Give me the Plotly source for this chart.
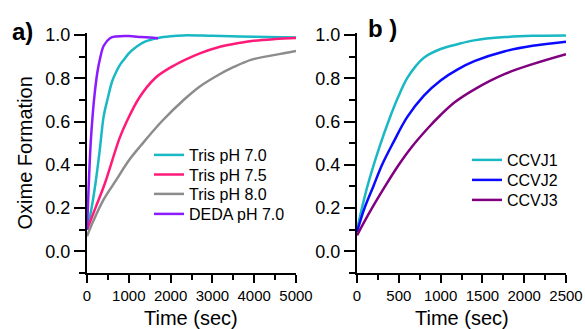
import plotly.graph_objects as go

# ---- Panel a) data (time in sec, oxime formation fraction) ----
a_names = ["Tris pH 7.0", "Tris pH 7.5", "Tris pH 8.0", "DEDA pH 7.0"]
a_colors = ["#19b8c4", "#ff1a7a", "#8c8c8c", "#8a1cff"]

t_tris70 = [0, 100, 200, 300, 400, 500, 600, 700, 800, 900, 1000, 1200, 1400, 1700, 2000, 2300, 3000, 4000, 5000]
y_tris70 = [0.10, 0.19, 0.31, 0.46, 0.625, 0.71, 0.785, 0.83, 0.865, 0.89, 0.915, 0.948, 0.97, 0.986, 0.994, 0.998, 0.996, 0.992, 0.988]

t_tris75 = [0, 200, 420, 773, 950, 1250, 1627, 2000, 2344, 2700, 3141, 3500, 3939, 4500, 5000]
y_tris75 = [0.10, 0.20, 0.31, 0.52, 0.60, 0.71, 0.80, 0.85, 0.885, 0.915, 0.943, 0.958, 0.972, 0.981, 0.986]

t_tris80 = [0, 150, 400, 700, 1000, 1292, 1786, 2344, 2700, 3141, 3500, 3939, 4500, 5000]
y_tris80 = [0.07, 0.14, 0.24, 0.33, 0.42, 0.49, 0.60, 0.705, 0.762, 0.815, 0.851, 0.886, 0.908, 0.926]

t_deda70 = [0, 40, 88, 140, 190, 250, 311, 400, 550, 700, 1000, 1300, 1500, 1700]
y_deda70 = [0.10, 0.30, 0.50, 0.64, 0.74, 0.83, 0.89, 0.95, 0.985, 0.993, 0.995, 0.99, 0.988, 0.985]

# ---- Panel b) data ----
b_names = ["CCVJ1", "CCVJ2", "CCVJ3"]
b_colors = ["#19b8c4", "#0a0aff", "#800080"]

t_ccvj1 = [0, 124, 275, 395, 500, 600, 700, 800, 1000, 1200, 1400, 1770, 2100, 2500]
y_ccvj1 = [0.10, 0.30, 0.49, 0.62, 0.72, 0.80, 0.855, 0.895, 0.935, 0.957, 0.975, 0.99, 0.996, 0.998]

t_ccvj2 = [0, 90, 195, 300, 430, 600, 800, 1000, 1200, 1411, 1770, 2100, 2500]
y_ccvj2 = [0.09, 0.20, 0.30, 0.40, 0.50, 0.62, 0.72, 0.79, 0.84, 0.88, 0.925, 0.95, 0.969]

t_ccvj3 = [0, 150, 335, 500, 650, 850, 1000, 1172, 1411, 1770, 2100, 2500]
y_ccvj3 = [0.074, 0.18, 0.30, 0.40, 0.48, 0.57, 0.63, 0.69, 0.75, 0.82, 0.865, 0.911]

y_ticks = [0.0, 0.2, 0.4, 0.6, 0.8, 1.0]
y_ticktext = ["0.0", "0.2", "0.4", "0.6", "0.8", "1.0"]
y_minor = [-0.1, 0.1, 0.3, 0.5, 0.7, 0.9]

FONT = "Liberation Sans, Arial, sans-serif"
W, H = 585, 329

fig = go.Figure()

# legend row tops (px from top) for each entry
a_leg_top = [138, 157.5, 177, 197]
b_leg_top = [143, 163, 183]

legends = {}
a_series = [(t_tris70, y_tris70), (t_tris75, y_tris75), (t_tris80, y_tris80), (t_deda70, y_deda70)]
idx = 1
for (tx, ty), name, col, top in zip(a_series, a_names, a_colors, a_leg_top):
    lname = "legend" if idx == 1 else f"legend{idx}"
    fig.add_trace(go.Scatter(x=tx, y=ty, mode="lines", name=name,
                             line=dict(color=col, width=2.5, shape="spline", smoothing=1.0),
                             xaxis="x", yaxis="y", legend=lname))
    legends[lname] = dict(x=149 / W, y=1 - top / H, xanchor="left", yanchor="top", bgcolor="rgba(0,0,0,0)",
                          font=dict(family=FONT, size=16, color="black"))
    idx += 1

b_series = [(t_ccvj1, y_ccvj1), (t_ccvj2, y_ccvj2), (t_ccvj3, y_ccvj3)]
for (tx, ty), name, col, top in zip(b_series, b_names, b_colors, b_leg_top):
    lname = f"legend{idx}"
    fig.add_trace(go.Scatter(x=tx, y=ty, mode="lines", name=name,
                             line=dict(color=col, width=2.5, shape="spline", smoothing=1.0),
                             xaxis="x2", yaxis="y2", legend=lname))
    legends[lname] = dict(x=467 / W, y=1 - top / H, xanchor="left", yanchor="top", bgcolor="rgba(0,0,0,0)",
                          font=dict(family=FONT, size=16, color="black"))
    idx += 1

ydom = [1 - 273 / H, 1 - 33 / H]

def xaxis(dom, rng, dtick, anchor):
    return dict(domain=dom, range=rng, anchor=anchor, automargin=False, showline=True, linecolor="black", linewidth=2,
                ticks="outside", ticklen=8, tickwidth=2, tickcolor="black", tick0=0, dtick=dtick,
                minor=dict(dtick=dtick / 2, ticks="outside", ticklen=5, tickwidth=2, tickcolor="black", showgrid=False),
                showgrid=False, zeroline=False,
                tickfont=dict(family=FONT, size=15, color="black"))

def yaxis(anchor):
    return dict(domain=ydom, range=[-0.1, 1.009], anchor=anchor, automargin=False, showline=True, linecolor="black", linewidth=2,
                ticks="outside", ticklen=11, tickwidth=2, tickcolor="black",
                tickvals=y_ticks, ticktext=y_ticktext,
                minor=dict(tickvals=y_minor, ticks="outside", ticklen=6, tickwidth=2, tickcolor="black", showgrid=False),
                showgrid=False, zeroline=False,
                tickfont=dict(family=FONT, size=18, color="black"))

fig.update_layout(
    width=W, height=H, margin=dict(l=0, r=0, t=0, b=0, autoexpand=False),
    paper_bgcolor="white", plot_bgcolor="white",
    font=dict(family=FONT, color="black"),
    xaxis=xaxis([87 / W, 296 / W], [0, 5000], 1000, "y"),
    yaxis=yaxis("x"),
    xaxis2=xaxis([357 / W, 566 / W], [0, 2500], 500, "y2"),
    yaxis2=yaxis("x2"),
    showlegend=True,
    annotations=[
        dict(text="<b>a)</b>", x=22.5 / W, y=1 - 31 / H, xref="paper", yref="paper", showarrow=False,
             font=dict(family=FONT, size=24, color="black"), xanchor="center", yanchor="middle"),
        dict(text="<b>b )</b>", x=382 / W, y=1 - 28 / H, xref="paper", yref="paper", showarrow=False,
             font=dict(family=FONT, size=24, color="black"), xanchor="center", yanchor="middle"),
        dict(text="Oxime Formation", textangle=-90, x=24.5 / W, y=1 - 153 / H, xref="paper", yref="paper",
             showarrow=False, font=dict(family=FONT, size=20, color="black"), xanchor="center", yanchor="middle"),
        dict(text="Time (sec)", x=191 / W, y=1 - 318 / H, xref="paper", yref="paper", showarrow=False,
             font=dict(family=FONT, size=20, color="black"), xanchor="center", yanchor="middle"),
        dict(text="Time (sec)", x=461.5 / W, y=1 - 318 / H, xref="paper", yref="paper", showarrow=False,
             font=dict(family=FONT, size=20, color="black"), xanchor="center", yanchor="middle"),
    ],
)
fig.update_layout(**legends)

fig.write_html("out.html", config={"displayModeBar": False},
               post_script="document.body.style.margin='0px';document.body.style.overflow='hidden';")
